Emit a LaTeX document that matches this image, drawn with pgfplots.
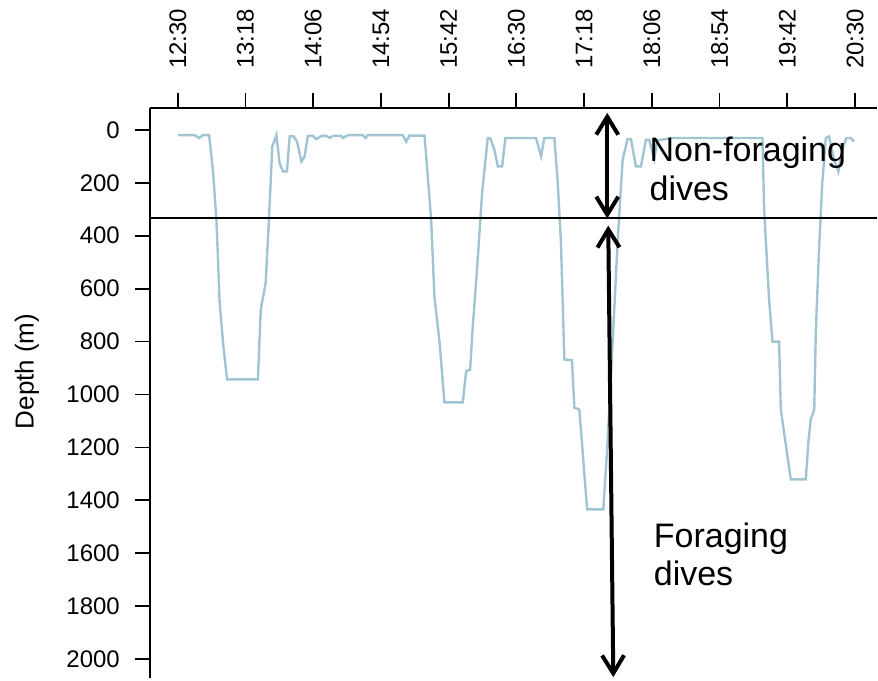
\documentclass[border=0pt]{standalone}
\usepackage{fontspec}
\setmainfont{Liberation Sans}
\usepackage{pgfplots}
\usepackage{pgfplotstable}
\pgfplotsset{compat=1.18}
\usetikzlibrary{arrows.meta}
\definecolor{diveline}{RGB}{160,196,210}

% time in minutes after 12:30, depth in m
\pgfplotstableread{
t d
0.2 20
12.0 20
15.1 31
17.9 20
22.2 20
25.0 157
27.4 340
29.7 653
32.1 805
34.9 943
56.8 943
58.8 679
62.3 579
64.6 340
67.0 63
69.9 20
72.2 126
74.5 157
77.4 157
79.3 25
82.1 25
84.5 44
87.6 120
89.9 100
92.2 23
95.8 23
98.2 35
101.7 23
105.3 23
107.6 31
109.9 23
115.9 23
117.0 31
120.6 20
131.2 20
133.1 31
134.7 20
159.5 20
161.9 45
164.2 22
174.9 22
177.2 176
179.6 340
181.9 629
185.5 800
189.0 1030
202.0 1030
204.4 912
207.2 906
209.1 742
212.6 490
215.7 239
219.7 31
221.4 31
224.4 75
226.8 138
229.9 138
232.2 31
253.9 31
257.5 100
259.8 31
266.9 31
269.2 189
271.6 428
274.0 868
279.4 870
281.1 1050
284.6 1057
286.5 1183
290.1 1434
301.6 1434
304.6 1183
308.2 805
311.7 428
315.3 113
318.8 35
321.2 35
324.7 138
328.3 138
331.8 38
334.2 38
337.7 110
339.8 40
350.7 31
414.4 31
415.6 302
419.1 642
421.5 800
426.2 800
427.4 1057
434.5 1321
445.1 1321
446.9 1183
448.6 1094
451.1 1057
452.2 767
454.5 453
456.8 201
459.3 31
461.6 25
465.2 113
468.2 157
471.0 75
473.8 31
477.0 31
479.3 44
}\dive

\begin{document}
\begin{tikzpicture}
\begin{axis}[
    scale only axis,
    width=364pt, height=285.5pt,
    xmin=-19.8, xmax=495.6,
    ymin=-83, ymax=2072,
    y dir=reverse,
    axis x line*=top,
    axis y line*=left,
    axis line style={line width=0.9pt},
    xtick={0,48,...,480},
    xticklabels={12:30,13:18,14:06,14:54,15:42,16:30,17:18,18:06,18:54,19:42,20:30},
    ytick={0,200,...,2000},
    tick align=outside,
    major tick length=7.5pt,
    tick style={line width=0.9pt,black},
    xticklabel style={rotate=90,anchor=west,font=\fontsize{12}{14}\selectfont},
    yticklabel style={font=\fontsize{12}{14}\selectfont},
    xticklabel shift=8.5pt,
    yticklabel shift=4pt,
    /pgf/number format/assume math mode=true,
    /pgf/number format/1000 sep={},
    ylabel={Depth (m)},
    ylabel style={font=\fontsize{13}{15}\selectfont,at={(axis cs:-107,913)},anchor=center},
    clip=false,
]
\addplot[diveline, line width=1.2pt] table[x=t,y=d] {\dive};

% threshold between non-foraging and foraging dives
\draw[black, line width=1pt] (axis cs:-19.8,335) -- (axis cs:495.6,335);

\draw[line width=2pt, {Straight Barb[length=9pt,width=11pt]}-{Straight Barb[length=9pt,width=11pt]}]
    (axis cs:304.4,-64) -- (axis cs:304.4,335);
\draw[line width=2pt, {Straight Barb[length=9pt,width=11pt]}-{Straight Barb[length=9pt,width=11pt]}]
    (axis cs:305.1,362) -- (axis cs:308.7,2068);

\node[anchor=base west, inner sep=0, font=\fontsize{17}{19.5}\selectfont] at (axis cs:334.2,119.6) {Non-foraging};
\node[anchor=base west, inner sep=0, font=\fontsize{17}{19.5}\selectfont] at (axis cs:334.2,266.8) {dives};
\node[anchor=base west, inner sep=0, font=\fontsize{17}{19.5}\selectfont] at (axis cs:337.2,1578.5) {Foraging};
\node[anchor=base west, inner sep=0, font=\fontsize{17}{19.5}\selectfont] at (axis cs:337.2,1723.4) {dives};

\path (axis cs:-126,-490.5) rectangle (axis cs:495.6,2072);
\end{axis}
\end{tikzpicture}
\end{document}
